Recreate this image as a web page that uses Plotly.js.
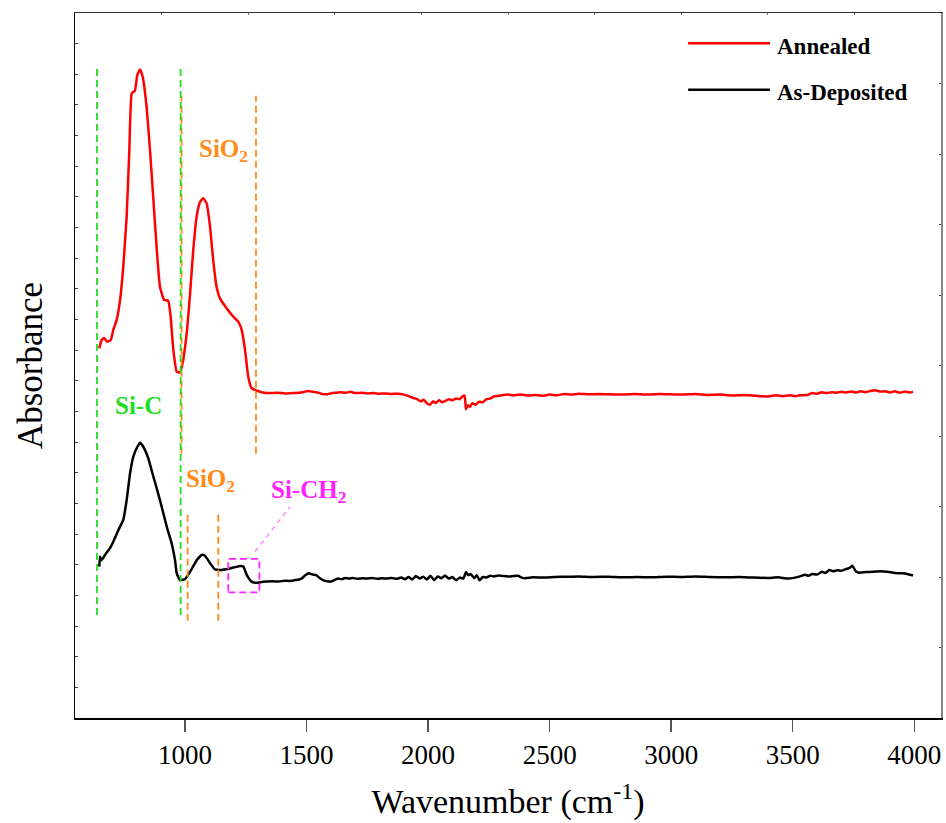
<!DOCTYPE html>
<html>
<head>
<meta charset="utf-8">
<script src="https://cdn.plot.ly/plotly-3.0.1.min.js"></script>
<style>html,body{margin:0;padding:0;background:#fff;}#chart{width:946px;height:823px;}</style>
</head>
<body>
<div id="chart"></div>
<script>
// ---- data ----
var annealedPeakX = [647.5,657,668,678,694,705,719,733,746,760,771,781,794,804,815,826,842,856,870,884,897,914,931,941,952,966,979,990,1007,1021,1034,1048,1062,1075,1089,1103,1116,1130,1144,1171,1199,1219,1233,1247,1260,1274,1295];
var annealedPeakY = [12.06,12.33,12.40,12.28,12.33,12.66,12.99,13.64,14.72,16.36,18.53,20.38,20.47,20.98,21.16,20.92,19.94,18.53,16.90,15.27,14.07,13.64,13.61,13.09,12.01,11.30,11.27,11.57,12.55,13.86,15.27,16.36,16.84,16.96,16.79,16.03,14.94,14.07,13.69,13.37,13.09,12.93,12.66,12.01,11.14,10.76,10.68];
// [wavenumber, absorbance] pairs of the flat part
var annealedBase = [[1320,10.62],[1350,10.60],[1380,10.61],[1410,10.59],[1440,10.60],[1470,10.61],[1490,10.64],[1505,10.67],[1520,10.65],[1540,10.63],[1560,10.58],[1580,10.56],[1600,10.59],[1620,10.61],[1640,10.63],[1660,10.61],[1680,10.64],[1700,10.60],[1725,10.61],[1750,10.59],[1775,10.60],[1800,10.58],[1825,10.59],[1850,10.57],[1875,10.58],[1900,10.55],[1920,10.50],[1940,10.44],[1955,10.40],[1970,10.33],[1982,10.38],[1995,10.27],[2008,10.22],[2020,10.33],[2032,10.28],[2045,10.37],[2058,10.30],[2070,10.34],[2085,10.40],[2100,10.37],[2115,10.42],[2130,10.40],[2140,10.48],[2150,10.52],[2156,10.07],[2163,10.20],[2172,10.15],[2182,10.27],[2195,10.22],[2210,10.32],[2225,10.30],[2240,10.40],[2255,10.42],[2270,10.49],[2290,10.51],[2310,10.54],[2330,10.55],[2350,10.53],[2380,10.55],[2410,10.52],[2440,10.54],[2470,10.51],[2500,10.55],[2530,10.53],[2560,10.57],[2590,10.55],[2620,10.58],[2660,10.56],[2700,10.57],[2750,10.56],[2800,10.55],[2850,10.57],[2900,10.55],[2950,10.57],[3000,10.56],[3050,10.55],[3100,10.57],[3150,10.54],[3200,10.55],[3250,10.52],[3300,10.54],[3350,10.51],[3400,10.49],[3430,10.53],[3460,10.50],[3490,10.53],[3510,10.50],[3530,10.53],[3560,10.54],[3580,10.60],[3600,10.58],[3620,10.63],[3640,10.60],[3660,10.63],[3680,10.61],[3700,10.64],[3720,10.62],[3740,10.65],[3760,10.62],[3780,10.66],[3800,10.63],[3820,10.67],[3840,10.69],[3860,10.65],[3880,10.66],[3900,10.62],[3920,10.66],[3940,10.61],[3960,10.65],[3980,10.62],[3995,10.64]];

var depositedPeakX = [647.5,650.5,657,671,691.5,705,726,746,760,774,787.5,804,815,828.5,849,870,897,925,945,959,966,979,1000,1021,1048,1069,1082,1103,1123,1144,1185,1226,1240,1254,1274,1295];
var depositedPeakY = [4.94,5.26,5.15,5.32,5.54,5.75,6.13,6.46,7.11,7.98,8.53,8.85,8.98,8.85,8.47,7.87,7.11,6.24,5.70,5.15,4.72,4.50,4.53,4.77,5.15,5.32,5.29,5.05,4.85,4.83,4.88,4.96,4.94,4.67,4.45,4.41];
var depositedBase = [[1310,4.43],[1336,4.45],[1360,4.46],[1385,4.45],[1410,4.48],[1430,4.47],[1455,4.50],[1480,4.55],[1495,4.66],[1510,4.72],[1525,4.68],[1540,4.66],[1555,4.56],[1570,4.49],[1585,4.46],[1600,4.45],[1615,4.50],[1630,4.55],[1645,4.53],[1660,4.57],[1675,4.55],[1690,4.57],[1710,4.54],[1730,4.56],[1750,4.55],[1770,4.57],[1790,4.54],[1810,4.56],[1830,4.55],[1850,4.57],[1870,4.54],[1890,4.58],[1905,4.53],[1920,4.60],[1935,4.52],[1950,4.63],[1965,4.55],[1980,4.61],[1995,4.52],[2010,4.64],[2025,4.50],[2040,4.62],[2055,4.56],[2070,4.65],[2085,4.55],[2100,4.60],[2115,4.49],[2130,4.58],[2145,4.55],[2156,4.76],[2165,4.66],[2175,4.70],[2190,4.56],[2200,4.66],[2212,4.49],[2225,4.60],[2240,4.58],[2255,4.64],[2270,4.62],[2290,4.65],[2310,4.63],[2330,4.62],[2350,4.63],[2370,4.64],[2385,4.58],[2400,4.56],[2430,4.59],[2470,4.58],[2520,4.60],[2570,4.61],[2620,4.62],[2680,4.60],[2740,4.61],[2800,4.59],[2860,4.60],[2920,4.59],[2980,4.61],[3040,4.60],[3100,4.62],[3160,4.60],[3220,4.59],[3280,4.60],[3340,4.58],[3400,4.57],[3440,4.59],[3480,4.55],[3510,4.58],[3530,4.62],[3550,4.67],[3565,4.64],[3580,4.70],[3600,4.68],[3620,4.77],[3635,4.73],[3650,4.83],[3665,4.79],[3685,4.82],[3700,4.80],[3720,4.86],[3735,4.90],[3745,4.97],[3760,4.78],[3775,4.74],[3800,4.76],[3830,4.77],[3860,4.79],[3890,4.77],[3920,4.73],[3950,4.72],[3975,4.69],[3995,4.65]];

var seriesNames = ["Annealed", "As-Deposited"];
var xTicks = [1000,1500,2000,2500,3000,3500,4000];

// band markers (wavenumber positions and vertical extents)
var siCBandX = [638, 982];
var siCBandY = [3.36, 21.27];
var sio2UpperX = [986, 1292];
var sio2UpperY = [8.62, 20.3];
var sio2LowerX = [1011, 1137];
var sio2LowerY = [3.17, 6.73];
var siCH2BoxX = [1178, 1306];
var siCH2BoxY = [4.10, 5.19];
var siCH2LeaderX = [1288, 1432];
var siCH2LeaderY = [5.43, 6.89];

// ---- chart ----
var annealedX = annealedPeakX.concat(annealedBase.map(function (p) { return p[0]; }));
var annealedY = annealedPeakY.concat(annealedBase.map(function (p) { return p[1]; }));
var depositedX = depositedPeakX.concat(depositedBase.map(function (p) { return p[0]; }));
var depositedY = depositedPeakY.concat(depositedBase.map(function (p) { return p[1]; }));

var traces = [
  {x: annealedX, y: annealedY, name: seriesNames[0], type: 'scatter', mode: 'lines',
   line: {color: '#ff0000', width: 2.5, shape: 'spline', smoothing: 0.4}, showlegend: false},
  {x: depositedX, y: depositedY, name: seriesNames[1], type: 'scatter', mode: 'lines',
   line: {color: '#000000', width: 2.5, shape: 'spline', smoothing: 0.4}, showlegend: false},
  // invisible trace to activate the mirrored frame axes
  {x: [0, 10], y: [0, 10], xaxis: 'x2', yaxis: 'y2', mode: 'none', hoverinfo: 'skip', showlegend: false}
];

var green = '#22dd22', orange = '#ff8c1a', magenta = '#ff22ff';
var serif = 'Liberation Serif, Times New Roman, serif';

function vline(x, y0, y1, color) {
  return {type: 'line', xref: 'x', yref: 'y', x0: x, x1: x, y0: y0, y1: y1,
          line: {color: color, width: 1.8, dash: '7px,4px'}};
}
var shapes = [];
shapes.push(vline(sio2UpperX[0], sio2UpperY[0], sio2UpperY[1], orange));
shapes.push(vline(sio2UpperX[1], sio2UpperY[0], sio2UpperY[1], orange));
siCBandX.forEach(function (x) { shapes.push(vline(x, siCBandY[0], siCBandY[1], green)); });
sio2LowerX.forEach(function (x) { shapes.push(vline(x, sio2LowerY[0], sio2LowerY[1], orange)); });
shapes.push({type: 'rect', xref: 'x', yref: 'y', x0: siCH2BoxX[0], x1: siCH2BoxX[1], y0: siCH2BoxY[0], y1: siCH2BoxY[1],
             line: {color: magenta, width: 1.8, dash: '7px,4px'}});
shapes.push({type: 'line', xref: 'x', yref: 'y', x0: siCH2LeaderX[0], x1: siCH2LeaderX[1], y0: siCH2LeaderY[0], y1: siCH2LeaderY[1],
             line: {color: '#ff77ff', width: 1.2, dash: '5px,4px'}});
// legend samples
shapes.push({type: 'line', xref: 'paper', yref: 'paper', x0: 0.708, x1: 0.8025, y0: 0.957, y1: 0.957, line: {color: '#ff0000', width: 2.5}});
shapes.push({type: 'line', xref: 'paper', yref: 'paper', x0: 0.708, x1: 0.8025, y0: 0.891, y1: 0.891, line: {color: '#000000', width: 2.5}});

var annotations = [
  {xref: 'paper', yref: 'paper', x: 0.808, y: 0.953, xanchor: 'left', yanchor: 'middle', showarrow: false,
   text: '<b>' + seriesNames[0] + '</b>', font: {family: serif, size: 23, color: '#000'}},
  {xref: 'paper', yref: 'paper', x: 0.808, y: 0.887, xanchor: 'left', yanchor: 'middle', showarrow: false,
   text: '<b>' + seriesNames[1] + '</b>', font: {family: serif, size: 23, color: '#000'}},
  {xref: 'x', yref: 'y', x: 1048, y: 18.5, xanchor: 'left', yanchor: 'middle', showarrow: false,
   text: '<b>SiO<sub>2</sub></b>', font: {family: serif, size: 25, color: orange}},
  {xref: 'x', yref: 'y', x: 809, y: 10.2, xanchor: 'center', yanchor: 'middle', showarrow: false,
   text: '<b>Si-C</b>', font: {family: serif, size: 25, color: green}},
  {xref: 'x', yref: 'y', x: 995, y: 7.75, xanchor: 'left', yanchor: 'middle', showarrow: false,
   text: '<b>SiO<sub>2</sub></b>', font: {family: serif, size: 25, color: orange}},
  {xref: 'x', yref: 'y', x: 1345, y: 7.4, xanchor: 'left', yanchor: 'middle', showarrow: false,
   text: '<b>Si-CH<sub>2</sub></b>', font: {family: serif, size: 25, color: magenta}}
];

var layout = {
  width: 946, height: 823,
  margin: {l: 75, r: 5, t: 13, b: 105},
  paper_bgcolor: '#fff', plot_bgcolor: '#fff',
  showlegend: false,
  font: {family: serif, color: '#000'},
  xaxis: {range: [547.5, 4110], tickvals: xTicks, ticks: 'outside', ticklen: 12, tickwidth: 1.5, tickcolor: '#555',
          showline: true, linecolor: '#000', linewidth: 1.5, showgrid: false, zeroline: false,
          tickfont: {family: serif, size: 27, color: '#000'},
          title: {text: 'Wavenumber (cm<sup>-1</sup>)', font: {family: serif, size: 34, color: '#000'}, standoff: 20}},
  yaxis: {range: [0, 23], dtick: 1, ticks: 'inside', ticklen: 3, tickwidth: 1, tickcolor: '#444',
          showticklabels: false, showline: true, linecolor: '#000', linewidth: 1.5, showgrid: false, zeroline: false,
          title: {text: 'Absorbance', font: {family: serif, size: 35, color: '#000'}, standoff: 20}},
  xaxis2: {overlaying: 'x', side: 'top', range: [0, 10], dtick: 1, ticks: 'inside', ticklen: 2, tickcolor: '#777',
           showticklabels: false, showline: true, linecolor: '#333', linewidth: 1.5, showgrid: false, zeroline: false},
  yaxis2: {overlaying: 'y', side: 'right', range: [0, 10], dtick: 1, ticks: 'inside', ticklen: 2, tickcolor: '#444',
           showticklabels: false, showline: true, linecolor: '#888', linewidth: 2, showgrid: false, zeroline: false},
  shapes: shapes,
  annotations: annotations
};

Plotly.newPlot('chart', traces, layout, {displayModeBar: false, staticPlot: true});
</script>
</body>
</html>
